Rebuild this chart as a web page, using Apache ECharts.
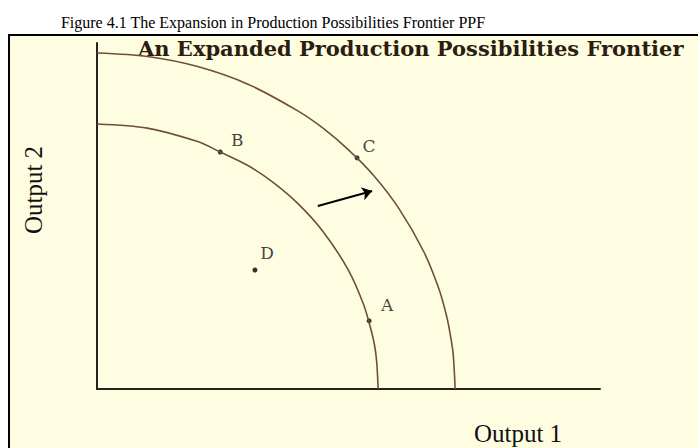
<!DOCTYPE html>
<html>
<head>
<meta charset="utf-8">
<script src="https://cdn.jsdelivr.net/npm/echarts@6/dist/echarts.min.js"></script>
<style>
html,body{margin:0;padding:0;background:#fff;}
#chart{width:698px;height:448px;}
</style>
</head>
<body>
<div id="chart"></div>
<script>
// Original frontier (inner curve): [Output 1, Output 2]
const ppfOriginal = [[0,76.6],[10,75.4],[20,71.5],[24.5,68.5],[30,64.6],[35,59.7],[40,53.5],[45,45.4],[50,34.3],[53,24.4],[54.5,17.0],[55.2,12.5],[55.6,7.9],[55.9,0]];
// Expanded frontier (outer curve)
const ppfExpanded = [[0,97.1],[10,96.1],[20,93.2],[30,88.1],[40,80.3],[45,75.3],[50,69.1],[55,61.7],[60,52.2],[65,39.6],[68,28.8],[69.5,21.1],[70.2,16.0],[70.8,10.3],[71.2,0]];
// Labelled points
const pointNames = ['A','B','C','D'];
const pointValues = [[54.1,19.7],[24.5,68.5],[51.7,66.8],[31.4,34.4]];
// Shift arrow
const arrowFrom = [43.9,52.9];
const arrowTo = [54.7,57.2];
const titleText = 'Figure 4.1 The Expansion in Production Possibilities Frontier PPF';
const subtitleText = 'An Expanded Production Possibilities Frontier';
const xName = 'Output 1';
const yName = 'Output 2';

const labelOffsets = {A:[18,-16],B:[17,-12],C:[12,-12],D:[12,-17]};

const chart = echarts.init(document.getElementById('chart'), null, {renderer:'svg'});
const curveColor = '#6e5038';
const option = {
  backgroundColor:'#ffffff',
  animation:false,
  graphic:[
    {type:'rect', z:-10, shape:{x:9,y:35,width:700,height:420}, style:{fill:'#fffde1', stroke:'#000', lineWidth:2}},
    {type:'text', x:273, y:22, style:{text:titleText, font:'16px "Liberation Serif"', fill:'#000', textAlign:'center', textVerticalAlign:'middle'}},
    {type:'text', x:138, y:48, style:{text:subtitleText, font:'bold 21px "DejaVu Serif"', fill:'#2b1d10', textAlign:'left', textVerticalAlign:'middle'}},
    {type:'text', x:518, y:433, style:{text:xName, font:'25px "Liberation Serif"', fill:'#111', textAlign:'center', textVerticalAlign:'middle'}},
    {type:'text', x:33, y:190, rotation:Math.PI/2, style:{text:yName, font:'25px "Liberation Serif"', fill:'#111', textAlign:'center', textVerticalAlign:'middle'}}
  ],
  grid:{left:97, top:43, width:503, height:346, containLabel:false},
  xAxis:{type:'value', min:0, max:100, axisLine:{show:true, lineStyle:{color:'#222', width:2}}, axisTick:{show:false}, axisLabel:{show:false}, splitLine:{show:false}},
  yAxis:{type:'value', min:0, max:100, axisLine:{show:true, lineStyle:{color:'#222', width:2}}, axisTick:{show:false}, axisLabel:{show:false}, splitLine:{show:false}},
  series:[
    {type:'line', data:ppfOriginal, smooth:0.3, showSymbol:false, lineStyle:{color:curveColor, width:1.6}},
    {type:'line', data:ppfExpanded, smooth:0.3, showSymbol:false, lineStyle:{color:curveColor, width:1.6}},
    {type:'scatter', symbolSize:5, itemStyle:{color:'#000'},
      data: pointNames.map((n,i)=>({name:n, value:pointValues[i], label:{show:true, formatter:n, position:'inside', offset:labelOffsets[n], color:'#111', fontFamily:'DejaVu Serif', fontSize:17}}))},
    {type:'lines', coordinateSystem:'cartesian2d', symbol:['none','arrow'], symbolSize:10,
      lineStyle:{color:'#000', width:2, opacity:1}, data:[{coords:[arrowFrom, arrowTo]}]}
  ]
};
chart.setOption(option);
</script>
</body>
</html>
